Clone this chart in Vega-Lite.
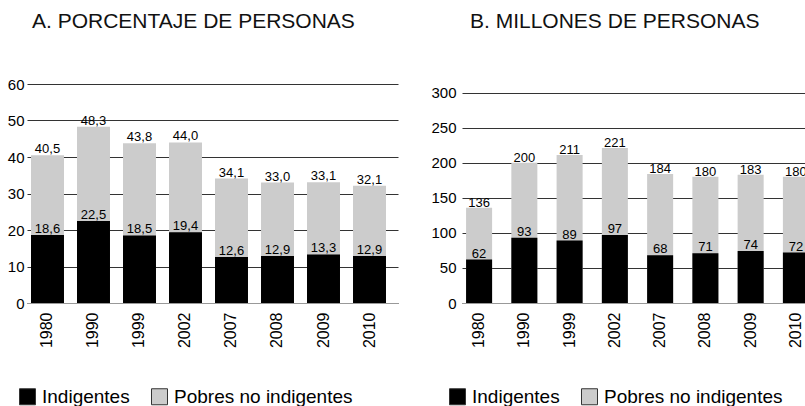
{
  "$schema": "https://vega.github.io/schema/vega-lite/v6.json",
  "padding": {"left": 0, "top": 11, "right": 0, "bottom": 0},
  "background": "white",
  "config": {
    "font": "Liberation Sans",
    "view": {"stroke": null},
    "locale": {"number": {"decimal": ",", "thousands": ".", "grouping": [3], "currency": ["", ""]}},
    "title": {"fontSize": 21, "fontWeight": "normal", "color": "#111111", "anchor": "start", "frame": "group", "baseline": "alphabetic"},
    "axisY": {"title": null, "grid": true, "gridColor": "#333333", "gridWidth": 1, "domain": false, "ticks": false, "labelColor": "#000000", "labelFontSize": 15, "labelOverlap": false},
    "axisX": {"title": null, "ticks": false, "labelAngle": -90, "labelFontSize": 16, "labelPadding": 9, "labelColor": "#000000", "domainColor": "#999999", "domainWidth": 1, "grid": false, "zindex": 1},
    "legend": {"orient": "none", "direction": "horizontal", "title": null, "symbolType": "square", "symbolSize": 256, "labelFontSize": 19, "labelColor": "#000000", "labelLimit": 0, "columnPadding": 19, "padding": 0, "symbolStrokeColor": "#333333", "symbolStrokeWidth": 1, "labelOffset": 5, "symbolOffset": 0}
  },
  "datasets": {
    "pct": [
      {"anio": "1980", "indigentes": 18.6, "total": 40.5},
      {"anio": "1990", "indigentes": 22.5, "total": 48.3},
      {"anio": "1999", "indigentes": 18.5, "total": 43.8},
      {"anio": "2002", "indigentes": 19.4, "total": 44.0},
      {"anio": "2007", "indigentes": 12.6, "total": 34.1},
      {"anio": "2008", "indigentes": 12.9, "total": 33.0},
      {"anio": "2009", "indigentes": 13.3, "total": 33.1},
      {"anio": "2010", "indigentes": 12.9, "total": 32.1}
    ],
    "mill": [
      {"anio": "1980", "indigentes": 62, "total": 136},
      {"anio": "1990", "indigentes": 93, "total": 200},
      {"anio": "1999", "indigentes": 89, "total": 211},
      {"anio": "2002", "indigentes": 97, "total": 221},
      {"anio": "2007", "indigentes": 68, "total": 184},
      {"anio": "2008", "indigentes": 71, "total": 180},
      {"anio": "2009", "indigentes": 74, "total": 183},
      {"anio": "2010", "indigentes": 72, "total": 180}
    ]
  },
  "spacing": 29,
  "resolve": {"scale": {"color": "independent", "x": "independent", "y": "independent"}, "legend": {"color": "independent"}},
  "hconcat": [
    {
      "title": {"text": "A. PORCENTAJE DE PERSONAS", "dx": 5, "offset": 45},
      "width": 371,
      "height": 219,
      "data": {"name": "pct"},
      "encoding": {
        "x": {"field": "anio", "type": "nominal", "sort": null, "scale": {"paddingInner": 0.283, "paddingOuter": 0.174, "align": 0.25}}
      },
      "layer": [
        {
          "mark": {"type": "bar"},
          "encoding": {
            "y": {"field": "total", "type": "quantitative", "scale": {"domain": [0, 60], "nice": false}, "axis": {"values": [0, 10, 20, 30, 40, 50, 60], "format": "d", "labelPadding": 3, "minExtent": 27, "maxExtent": 27}},
            "color": {"datum": "Pobres no indigentes", "type": "nominal", "scale": {"domain": ["Indigentes", "Pobres no indigentes"], "range": ["#000000", "#cccccc"]}, "legend": {"legendX": -9, "legendY": 303}}
          }
        },
        {
          "mark": {"type": "bar"},
          "encoding": {
            "y": {"field": "indigentes", "type": "quantitative", "axis": {"values": [0, 10, 20, 30, 40, 50, 60], "format": "d", "labelPadding": 3, "minExtent": 27, "maxExtent": 27}},
            "color": {"datum": "Indigentes", "type": "nominal"}
          }
        },
        {
          "mark": {"type": "text", "baseline": "alphabetic", "dy": -2, "fontSize": 13, "color": "#000000"},
          "encoding": {
            "y": {"field": "total", "type": "quantitative", "axis": {"values": [0, 10, 20, 30, 40, 50, 60], "format": "d", "labelPadding": 3, "minExtent": 27, "maxExtent": 27}},
            "text": {"field": "total", "type": "quantitative", "format": ".1f"}
          }
        },
        {
          "mark": {"type": "text", "baseline": "alphabetic", "dy": -2, "fontSize": 13, "color": "#000000"},
          "encoding": {
            "y": {"field": "indigentes", "type": "quantitative", "axis": {"values": [0, 10, 20, 30, 40, 50, 60], "format": "d", "labelPadding": 3, "minExtent": 27, "maxExtent": 27}},
            "text": {"field": "indigentes", "type": "quantitative", "format": ".1f"}
          }
        }
      ]
    },
    {
      "title": {"text": "B. MILLONES DE PERSONAS", "dx": 8, "offset": 52},
      "width": 343,
      "height": 219,
      "data": {"name": "mill"},
      "encoding": {
        "x": {"field": "anio", "type": "nominal", "sort": null, "scale": {"range": [0, 351], "paddingInner": 0.425, "paddingOuter": 0.09, "align": 0.5}}
      },
      "layer": [
        {
          "mark": {"type": "bar", "clip": true},
          "encoding": {
            "y": {"field": "total", "type": "quantitative", "scale": {"domain": [0, 312.4], "nice": false}, "axis": {"values": [0, 50, 100, 150, 200, 250, 300], "format": "d", "labelPadding": 6, "minExtent": 35, "maxExtent": 35}},
            "color": {"datum": "Pobres no indigentes", "type": "nominal", "scale": {"domain": ["Indigentes", "Pobres no indigentes"], "range": ["#000000", "#cccccc"]}, "legend": {"legendX": -14, "legendY": 303}}
          }
        },
        {
          "mark": {"type": "bar", "clip": true},
          "encoding": {
            "y": {"field": "indigentes", "type": "quantitative", "axis": {"values": [0, 50, 100, 150, 200, 250, 300], "format": "d", "labelPadding": 6, "minExtent": 35, "maxExtent": 35}},
            "color": {"datum": "Indigentes", "type": "nominal"}
          }
        },
        {
          "mark": {"type": "text", "baseline": "alphabetic", "dy": -1, "fontSize": 13, "color": "#000000", "clip": true},
          "encoding": {
            "y": {"field": "total", "type": "quantitative", "axis": {"values": [0, 50, 100, 150, 200, 250, 300], "format": "d", "labelPadding": 6, "minExtent": 35, "maxExtent": 35}},
            "text": {"field": "total", "type": "quantitative", "format": "d"}
          }
        },
        {
          "mark": {"type": "text", "baseline": "alphabetic", "dy": -2, "fontSize": 13, "color": "#000000", "clip": true},
          "encoding": {
            "y": {"field": "indigentes", "type": "quantitative", "axis": {"values": [0, 50, 100, 150, 200, 250, 300], "format": "d", "labelPadding": 6, "minExtent": 35, "maxExtent": 35}},
            "text": {"field": "indigentes", "type": "quantitative", "format": "d"}
          }
        }
      ]
    }
  ]
}
